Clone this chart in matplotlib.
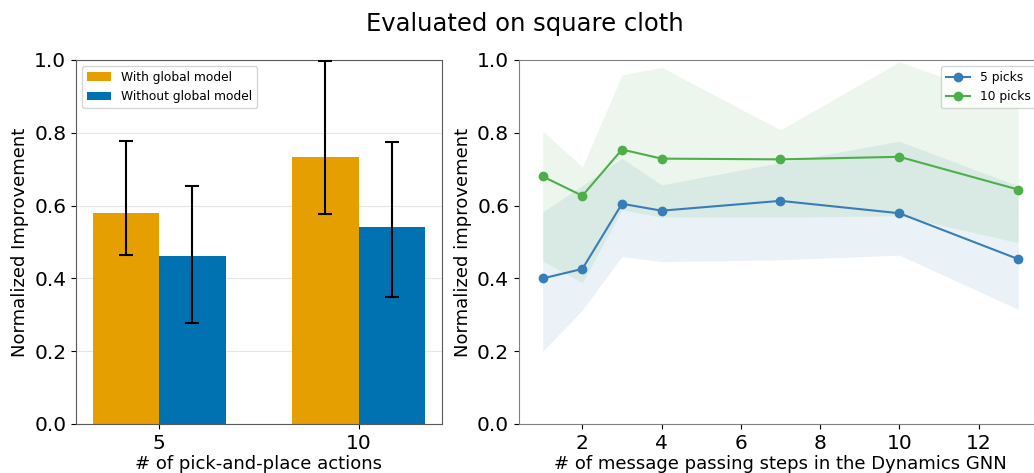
import numpy as np
import matplotlib
matplotlib.use("Agg")
import matplotlib.pyplot as plt

# left panel: bars
actions = ["5", "10"]
with_global = [0.579, 0.734]
with_global_lo = [0.465, 0.576]
with_global_hi = [0.778, 0.996]
without_global = [0.461, 0.540]
without_global_lo = [0.278, 0.349]
without_global_hi = [0.654, 0.775]

# right panel: message passing steps
steps = [1, 2, 3, 4, 7, 10, 13]
picks5 = [0.400, 0.426, 0.605, 0.586, 0.613, 0.579, 0.453]
picks5_lo = [0.200, 0.313, 0.460, 0.446, 0.451, 0.464, 0.315]
picks5_hi = [0.583, 0.655, 0.730, 0.657, 0.718, 0.777, 0.654]
picks10 = [0.680, 0.627, 0.754, 0.729, 0.727, 0.734, 0.644]
picks10_lo = [0.448, 0.388, 0.588, 0.568, 0.568, 0.572, 0.498]
picks10_hi = [0.805, 0.706, 0.959, 0.980, 0.808, 0.995, 0.880]

fig = plt.figure(figsize=(10.34, 4.73), dpi=100)
ax1 = fig.add_axes([0.0735, 0.1036, 0.3537, 0.7696])
ax2 = fig.add_axes([0.5019, 0.1036, 0.5058, 0.7696])

# ---- left
x = np.arange(len(actions))
w = 1 / 3
err1 = [np.array(with_global) - np.array(with_global_lo), np.array(with_global_hi) - np.array(with_global)]
err2 = [np.array(without_global) - np.array(without_global_lo), np.array(without_global_hi) - np.array(without_global)]
ax1.bar(x - w / 2, with_global, w, color="#E69F00", label="With global model", zorder=2)
ax1.bar(x + w / 2, without_global, w, color="#0072B2", label="Without global model", zorder=2)
ax1.errorbar(x - w / 2, with_global, yerr=err1, fmt="none", ecolor="black", capsize=5, elinewidth=1.5, capthick=1.5, zorder=3)
ax1.errorbar(x + w / 2, without_global, yerr=err2, fmt="none", ecolor="black", capsize=5, elinewidth=1.5, capthick=1.5, zorder=3)
ax1.set_xticks(x)
ax1.set_xticklabels(actions)
ax1.set_ylim(0, 1.0)
ax1.yaxis.grid(True, color="#e6e6e6", linewidth=0.8, zorder=0)
ax1.set_axisbelow(True)
ax1.set_xlabel("# of pick-and-place actions", fontsize=13, labelpad=2)
ax1.set_ylabel("Normalized Improvement", fontsize=13)
ax1.tick_params(labelsize=14.5)
ax1.legend(loc="upper left", fontsize=8.8)
for s in ax1.spines.values():
    s.set_color("0.35")

# ---- right
ax2.fill_between(steps, picks5_lo, picks5_hi, color="#377eb8", alpha=0.1, linewidth=0)
ax2.fill_between(steps, picks10_lo, picks10_hi, color="#4daf4a", alpha=0.1, linewidth=0)
ax2.plot(steps, picks5, "-o", color="#377eb8", markersize=6, linewidth=1.5, label="5 picks")
ax2.plot(steps, picks10, "-o", color="#4daf4a", markersize=6, linewidth=1.5, label="10 picks")
ax2.set_ylim(0, 1.0)
ax2.set_xlim(0.4, 13.6)
ax2.set_xlabel("# of message passing steps in the Dynamics GNN", fontsize=13, labelpad=2)
ax2.set_ylabel("Normalized improvement", fontsize=13)
ax2.tick_params(labelsize=14.5)
ax2.legend(loc="upper right", fontsize=8.8)
for s in ax2.spines.values():
    s.set_color("0.5")

fig.suptitle("Evaluated on square cloth", fontsize=17.5, x=0.508, y=0.975)

plt.savefig("out.png", dpi=100)
